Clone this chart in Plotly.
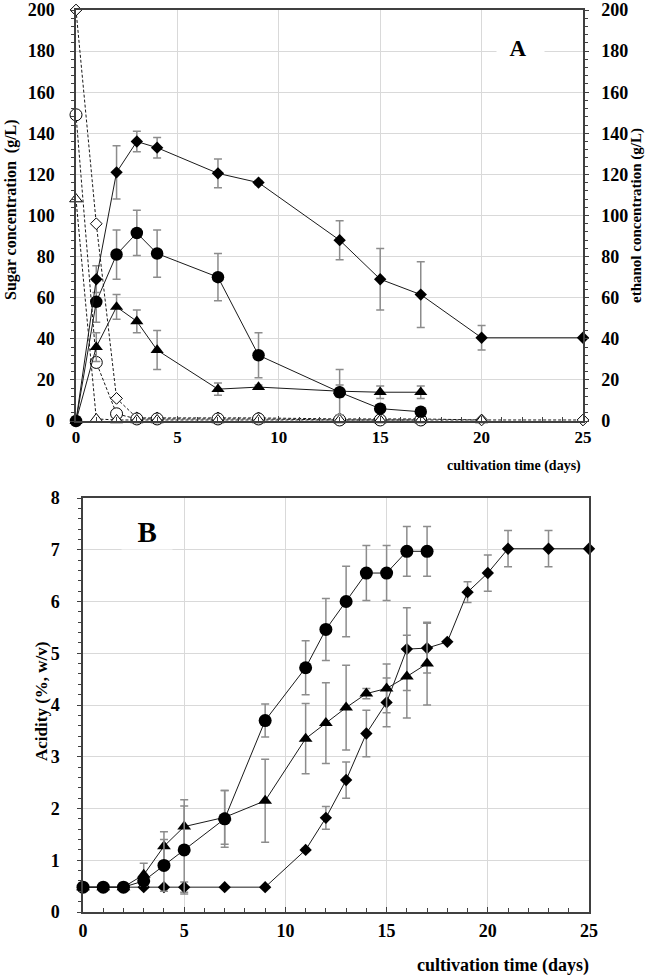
import plotly.graph_objects as go

W, H = 646, 977

# ---------------- Panel A data ----------------
eth_dia_x = [0, 1, 2, 3, 4, 7, 9, 13, 15, 17, 20, 25]
eth_dia_y = [0, 69, 121, 136, 133, 120.5, 116, 88, 69, 61.5, 40.5, 40.5]
eth_dia_e = [0, 6.5, 13, 5, 5, 7, 1, 9.5, 15, 16, 6, 0]

eth_cir_x = [0, 1, 2, 3, 4, 7, 9, 13, 15, 17]
eth_cir_y = [0, 58, 81, 91.5, 81.5, 70, 32, 14, 6, 4.5]
eth_cir_e = [0, 10, 12, 11, 11.5, 11.5, 11, 11, 1, 1]

eth_tri_x = [0, 1, 2, 3, 4, 7, 9, 13, 15, 17]
eth_tri_y = [0, 36, 55.5, 48.5, 34.5, 15.5, 16.5, 14.5, 14, 14]
eth_tri_e = [0, 7, 6, 5.5, 9.5, 3, 1, 3, 3, 3]

sug_dia_x = [0, 1, 2, 3, 4, 7, 9, 13, 15, 17, 20, 25]
sug_dia_y = [200, 96, 11, 1.5, 1.5, 1.5, 1.5, 1, 1, 1, 0.5, 0.5]

sug_cir_x = [0, 1, 2, 3, 4, 7, 9, 13, 15, 17]
sug_cir_y = [149, 28.5, 3.5, 1, 1, 1, 1, 0.5, 0.5, 0.5]

sug_tri_x = [0, 1, 2, 3, 4, 7, 9, 13, 15, 17, 20]
sug_tri_y = [108, 1, 0.5, 0.5, 0.5, 0.5, 0.5, 0.5, 0.5, 0.5, 0.5]

# ---------------- Panel B data ----------------
acid_cir_x = [0, 1, 2, 3, 4, 5, 7, 9, 11, 12, 13, 14, 15, 16, 17]
acid_cir_y = [0.48, 0.48, 0.48, 0.6, 0.9, 1.2, 1.8, 3.7, 4.72, 5.46, 6.0, 6.55, 6.55, 6.97, 6.97]
acid_cir_e = [0, 0, 0, 0.05, 0.5, 0.85, 0.55, 0.32, 0.52, 0.6, 0.68, 0.53, 0.53, 0.48, 0.48]

acid_tri_x = [0, 1, 2, 3, 4, 5, 7, 9, 11, 12, 13, 14, 15, 16, 17]
acid_tri_y = [0.48, 0.48, 0.48, 0.72, 1.27, 1.65, 1.83, 2.15, 3.35, 3.65, 3.95, 4.22, 4.32, 4.55, 4.8]
acid_tri_e = [0, 0, 0, 0.22, 0.28, 0.52, 0.52, 0.8, 0.68, 0.78, 0.82, 0.1, 0.47, 0.8, 0.8]

acid_dia_x = [0, 1, 2, 3, 4, 5, 7, 9, 11, 12, 13, 14, 15, 16, 17, 18, 19, 20, 21, 23, 25]
acid_dia_y = [0.48, 0.48, 0.48, 0.48, 0.48, 0.48, 0.48, 0.48, 1.2, 1.82, 2.55, 3.45, 4.05, 5.08, 5.1, 5.22, 6.18, 6.55, 7.02, 7.02, 7.02]
acid_dia_e = [0, 0, 0, 0, 0, 0.1, 0, 0, 0.03, 0.22, 0.35, 0.45, 0.47, 0.8, 0.48, 0, 0.2, 0.35, 0.35, 0.35, 0]

FONT = "Liberation Serif, Times New Roman, serif"
LINE = "#1a1a1a"
ERR = "#8c8c8c"
GRID = "#d9d9d9"
AX = "#404040"

def err(arr, w=4):
    return dict(type="data", array=arr, visible=True, color=ERR, thickness=1.5, width=w)

fig = go.Figure()

for xs, ys, sym, sz in [(sug_dia_x, sug_dia_y, "diamond", 9),
                        (sug_cir_x, sug_cir_y, "circle", 12),
                        (sug_tri_x, sug_tri_y, "triangle-up", 11)]:
    fig.add_trace(go.Scatter(x=xs, y=ys, mode="lines+markers", xaxis="x", yaxis="y",
                             line=dict(color=LINE, width=1, dash="3px,2px"),
                             marker=dict(symbol=sym, size=sz, color="white",
                                         line=dict(color="black", width=1)),
                             showlegend=False, cliponaxis=False))

for xs, ys, es, sym, sz in [(eth_tri_x, eth_tri_y, eth_tri_e, "triangle-up", 11.5),
                            (eth_cir_x, eth_cir_y, eth_cir_e, "circle", 12.5),
                            (eth_dia_x, eth_dia_y, eth_dia_e, "diamond", 9.5)]:
    fig.add_trace(go.Scatter(x=xs, y=ys, mode="lines+markers", xaxis="x", yaxis="y3",
                             error_y=err(es),
                             line=dict(color=LINE, width=1),
                             marker=dict(symbol=sym, size=sz, color="black", line=dict(width=0)),
                             showlegend=False, cliponaxis=False))

for xs, ys, es, sym, sz in [(acid_dia_x, acid_dia_y, acid_dia_e, "diamond", 9.5),
                            (acid_tri_x, acid_tri_y, acid_tri_e, "triangle-up", 12),
                            (acid_cir_x, acid_cir_y, acid_cir_e, "circle", 13)]:
    fig.add_trace(go.Scatter(x=xs, y=ys, mode="lines+markers", xaxis="x2", yaxis="y2",
                             error_y=err(es),
                             line=dict(color=LINE, width=1),
                             marker=dict(symbol=sym, size=sz, color="black", line=dict(width=0)),
                             showlegend=False, cliponaxis=False))

xA = [76 / W, 583 / W]
yA = [1 - 421 / H, 1 - 10 / H]
xB = [83 / W, 589 / W]
yB = [1 - 912 / H, 1 - 498 / H]

tfAy = dict(family=FONT, size=18, color="black")
tfAx = dict(family=FONT, size=17, color="black")
tfB = dict(family=FONT, size=18, color="black")

def xax(domain, anchor, tf, standoff):
    return dict(domain=domain, anchor=anchor, range=[0, 25], dtick=5, tick0=0,
                ticks="inside", ticklen=5, tickwidth=1.2, tickcolor=AX,
                minor=dict(dtick=1, ticks="inside", ticklen=4, tickwidth=1, tickcolor=AX, showgrid=False),
                showgrid=True, gridcolor=GRID, gridwidth=1.2,
                showline=True, linecolor=AX, linewidth=1.5, mirror=True,
                tickfont=tf, tickprefix="<b>", ticksuffix="</b>", automargin=False,
                ticklabelstandoff=standoff, zeroline=False, fixedrange=True)

def yax(domain, anchor, rng, dt, mdt, tf, side="left", overlay=None, labels=True,
        ticks="outside", grid=False, standoff=6):
    d = dict(anchor=anchor, range=rng, dtick=dt, tick0=0, side=side,
             ticks=ticks, ticklen=4, tickwidth=1.2, tickcolor=AX,
             minor=dict(dtick=mdt, ticks=ticks, ticklen=3, tickwidth=1, tickcolor=AX, showgrid=False),
             showgrid=grid, gridcolor=GRID, gridwidth=1.2,
             showline=True, linecolor=AX, linewidth=1.5,
             showticklabels=labels, tickfont=tf, tickprefix="<b>", ticksuffix="</b>",
             ticklabelstandoff=standoff, automargin=False,
             zeroline=False, fixedrange=True)
    if overlay:
        d["overlaying"] = overlay
    else:
        d["domain"] = domain
    return d

fig.update_layout(
    width=W, height=H, margin=dict(l=0, r=0, t=0, b=0, pad=0),
    paper_bgcolor="white", plot_bgcolor="white",
    xaxis=xax(xA, "y", tfAx, 0),
    xaxis2=xax(xB, "y2", tfB, 2),
    yaxis=yax(yA, "x", [0, 200], 20, 4, tfAy, grid=True, standoff=12),
    yaxis3=yax(None, "x", [0, 200], 20, 4, tfAy, side="right", overlay="y", standoff=9),
    yaxis4=yax(None, "x", [0, 200], 20, 4, tfAy, side="left", overlay="y", labels=False, ticks="inside"),
    yaxis5=yax(None, "x", [0, 200], 20, 4, tfAy, side="right", overlay="y", labels=False, ticks="inside"),
    yaxis2=dict(yax(yB, "x2", [0, 8], 1, 0.2, tfB, grid=True, standoff=14), mirror=True),
    yaxis6=yax(None, "x2", [0, 8], 1, 0.2, tfB, side="left", overlay="y2", labels=False, ticks="inside"),
)

ann = []
def a(text, x, y, size, angle=0, xanchor="center", bg=None):
    d = dict(text="<b>" + text + "</b>", x=x / W, y=1 - y / H, xref="paper", yref="paper",
             showarrow=False, textangle=angle, xanchor=xanchor, yanchor="middle",
             font=dict(family=FONT, size=size, color="black"))
    if bg:
        d["bgcolor"] = bg
    ann.append(d)

a("Sugar concentration  (g/L)", 11, 210, 16, angle=-90)
a("ethanol concentration (g/L)", 637, 216, 15, angle=-90)
a("cultivation time (days)", 583, 466, 14, xanchor="right")
a("&nbsp;&nbsp;A&nbsp;&nbsp;&nbsp;", 520, 48, 23, bg="white")
a("Acidity (%, w/v)", 41, 702, 17, angle=-90)
a("cultivation time (days)", 591, 965, 18, xanchor="right")
a("&nbsp;&nbsp;B&nbsp;&nbsp;", 147, 532, 29, bg="white")
fig.update_layout(annotations=ann)

fig.write_html("out.html", config={"displayModeBar": False},
               post_script="document.body.style.margin='0';document.body.style.overflow='hidden';")
